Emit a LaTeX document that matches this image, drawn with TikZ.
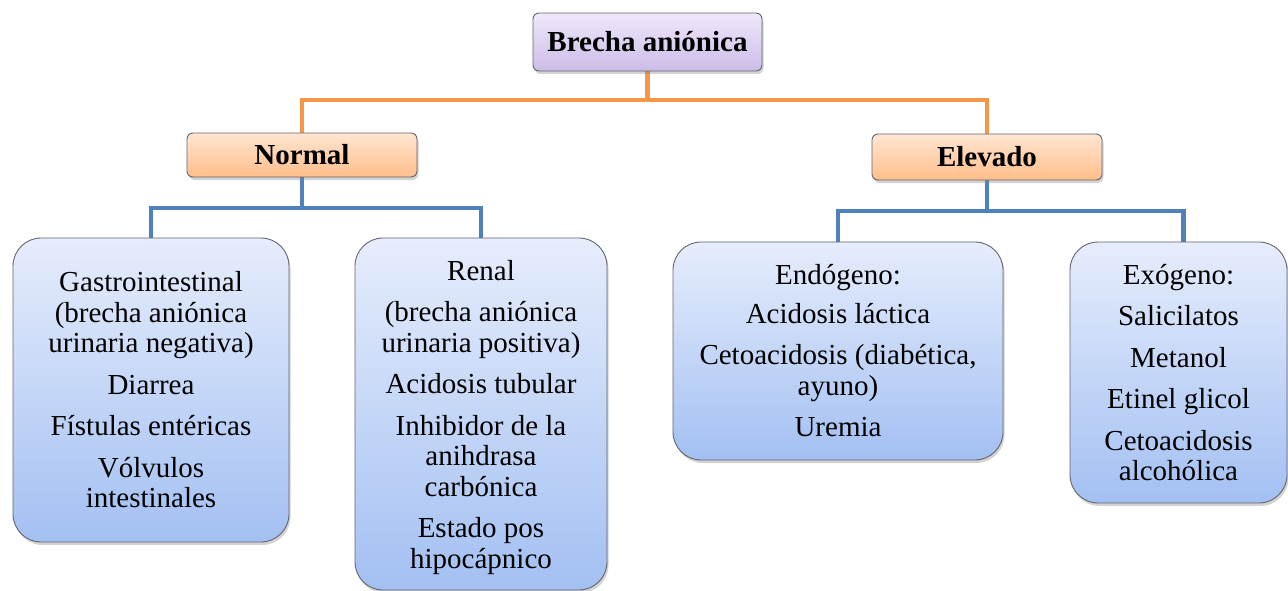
\documentclass[tikz,border=0pt]{standalone}
\usepackage{fontspec}
\setmainfont{LiberationSerif}[Extension=.ttf, UprightFont=*-Regular, BoldFont=*-Bold, ItalicFont=*-Italic, BoldItalicFont=*-BoldItalic]
\usetikzlibrary{shadows,backgrounds}
\definecolor{bluetop}{RGB}{230,237,252}
\definecolor{bluebot}{RGB}{163,192,242}
\definecolor{orgtop}{RGB}{255,230,210}
\definecolor{orgbot}{RGB}{255,190,138}
\definecolor{purtop}{RGB}{240,232,251}
\definecolor{purbot}{RGB}{204,188,232}
\definecolor{orgline}{RGB}{247,150,70}
\definecolor{blueline}{RGB}{79,129,189}
\definecolor{edge}{RGB}{100,100,110}
\tikzset{
  basebox/.style={draw=edge, line width=0.9pt, inner sep=0pt, align=center,
    drop shadow={shadow xshift=1.5pt, shadow yshift=-3pt, opacity=0.35}},
  headbox/.style={basebox, rounded corners=6pt,
    font=\rmfamily\fontsize{29}{32}\selectfont\bfseries},
  purplebox/.style={headbox, top color=purtop, bottom color=purbot},
  orangebox/.style={headbox, top color=orgtop, bottom color=orgbot},
  itembox/.style={basebox, rounded corners=28pt, top color=bluetop, bottom color=bluebot,
    font=\rmfamily\fontsize{29}{30.5}\selectfont},
  oline/.style={draw=orgline, line width=4.8pt},
  bline/.style={draw=blueline, line width=4.8pt},
}
\begin{document}
\begin{tikzpicture}[x=1pt,y=-1pt]
\useasboundingbox (0,0) rectangle (1288,591);
\node[purplebox, minimum width=229pt, minimum height=58pt] (top) at (647.5,42) {Brecha aniónica};
\node[orangebox, minimum width=230pt, minimum height=44pt] (normal) at (302,155) {Normal};
\node[orangebox, minimum width=230pt, minimum height=46pt] (elevado) at (987,157) {Elevado};
\node[itembox, minimum width=276pt, minimum height=304pt] (gastro) at (151,390)
  {Gastrointestinal\\(brecha aniónica\\urinaria negativa)\\[11pt]Diarrea\\[11pt]Fístulas entéricas\\[11pt]Vólvulos\\intestinales};
\node[itembox, minimum width=252pt, minimum height=352pt] (renal) at (481,414)
  {\rule{0pt}{27pt}Renal\\[11pt](brecha aniónica\\urinaria positiva)\\[11pt]Acidosis tubular\\[11pt]Inhibidor de la\\anihdrasa\\carbónica\\[11pt]Estado pos\\hipocápnico};
\node[itembox, minimum width=330pt, minimum height=218pt] (endo) at (838,351)
  {Endógeno:\\[8pt]Acidosis láctica\\[11pt]Cetoacidosis (diabética,\\ayuno)\\[11pt]Uremia};
\node[itembox, minimum width=217pt, minimum height=261pt] (exo) at (1178.5,372.5)
  {Exógeno:\\[11pt]Salicilatos\\[11pt]Metanol\\[11pt]Etinel glicol\\[11pt]Cetoacidosis\\alcohólica};
\begin{scope}[on background layer]
\coordinate (ojoin) at (647.5,100);
\draw[oline] (top.south) -- (ojoin);
\draw[oline] (ojoin) -| (normal.north);
\draw[oline] (ojoin) -| (elevado.north);
\coordinate (njoin) at (302,208);
\draw[bline] (normal.south) -- (njoin);
\draw[bline] (njoin) -| (gastro.north);
\draw[bline] (njoin) -| (renal.north);
\coordinate (ejoin) at (987,211);
\draw[bline] (elevado.south) -- (ejoin);
\draw[bline] (ejoin) -| (endo.north);
\draw[bline] (ejoin) -| ([xshift=5pt]exo.north);
\end{scope}
\end{tikzpicture}
\end{document}
